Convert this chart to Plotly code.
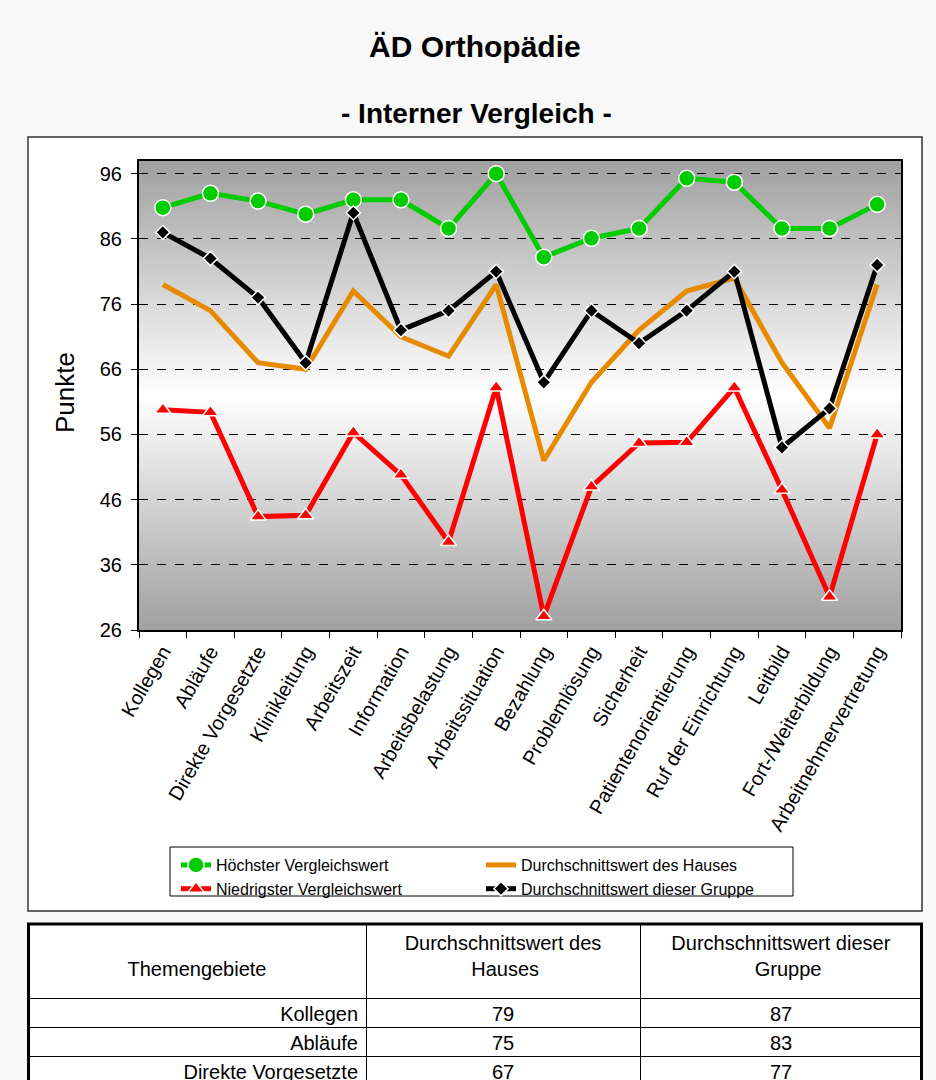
import plotly.graph_objects as go

categories = ["Kollegen", "Abläufe", "Direkte Vorgesetzte", "Klinikleitung", "Arbeitszeit",
              "Information", "Arbeitsbelastung", "Arbeitssituation", "Bezahlung", "Problemlösung",
              "Sicherheit", "Patientenorientierung", "Ruf der Einrichtung", "Leitbild",
              "Fort-/Weiterbildung", "Arbeitnehmervertretung"]

hoechster = [90.8, 93.0, 91.8, 89.8, 92.0, 92.0, 87.6, 96.0, 83.2, 86.1, 87.6, 95.3, 94.7, 87.6, 87.6, 91.3]
haus = [79, 75, 67, 66, 78, 71, 68, 79, 52, 64, 72, 78, 80, 67, 57, 79]
niedrigster = [59.8, 59.4, 43.4, 43.6, 56.3, 49.8, 39.5, 63.2, 28.1, 48.0, 54.7, 54.8, 63.2, 47.5, 31.1, 56.0]
gruppe = [87, 83, 77, 67, 90, 72, 75, 81, 64, 75, 70, 75, 81, 54, 60, 82]

y_ticks = [26, 36, 46, 56, 66, 76, 86, 96]

NB = "\u00a0"
table_header = [NB + "<br>Themengebiete",
                "Durchschnittswert des<br>" + NB * 12 + "Hauses",
                "Durchschnittswert dieser<br>" + NB * 15 + "Gruppe"]

W, H = 936, 1080
FONT = "Arial, 'Liberation Sans', sans-serif"

def px(x):
    return x / W

def py(y):
    return 1 - y / H

fig = go.Figure()

fig.add_trace(go.Scatter(x=categories, y=hoechster, name="Höchster Vergleichswert",
                         mode="lines+markers", line=dict(color="#00cc00", width=5),
                         marker=dict(symbol="circle", size=16, color="#00cc00",
                                     line=dict(color="white", width=1.5)),
                         legend="legend"))
fig.add_trace(go.Scatter(x=categories, y=haus, name="Durchschnittswert des Hauses",
                         mode="lines", line=dict(color="#e68a00", width=5),
                         legend="legend2"))
fig.add_trace(go.Scatter(x=categories, y=niedrigster, name="Niedrigster Vergleichswert",
                         mode="lines+markers", line=dict(color="#ff0000", width=5),
                         marker=dict(symbol="triangle-up", size=14, color="#ff0000",
                                     line=dict(color="white", width=1.5)),
                         legend="legend"))
fig.add_trace(go.Scatter(x=categories, y=gruppe, name="Durchschnittswert dieser Gruppe",
                         mode="lines+markers", line=dict(color="#000000", width=5),
                         marker=dict(symbol="diamond", size=11, color="#000000",
                                     line=dict(color="white", width=1.5)),
                         legend="legend2"))

fig.add_trace(go.Table(
    domain=dict(x=[px(28), px(922)], y=[0, py(924)]),
    columnwidth=[338, 274, 282],
    header=dict(values=table_header, align="center", height=74,
                fill_color="white", line=dict(color="black", width=1),
                font=dict(family=FONT, size=20, color="black")),
    cells=dict(values=[categories, haus, gruppe], align=["right", "center", "center"],
               height=29, fill_color="white", line=dict(color="black", width=1),
               font=dict(family=FONT, size=20, color="black")),
))

shapes = []
# chart box
shapes.append(dict(type="rect", xref="paper", yref="paper", x0=px(28), x1=px(922),
                   y0=py(911), y1=py(137), fillcolor="white",
                   line=dict(color="#333333", width=1.5), layer="below"))
# gradient background of plot area
n = 80
for i in range(n):
    t = (i + 0.5) / n
    d = abs(t - 0.5) * 2
    g = int(round(255 - (255 - 160) * d))
    shapes.append(dict(type="rect", xref="x domain", yref="y domain", x0=0, x1=1,
                       y0=i / n, y1=(i + 1) / n + 0.002,
                       fillcolor=f"rgb({g},{g},{g})", line=dict(width=0), layer="below"))
# legend box
shapes.append(dict(type="rect", xref="paper", yref="paper", x0=px(170), x1=px(793),
                   y0=py(896), y1=py(847), fillcolor="white",
                   line=dict(color="black", width=1), layer="below"))
# table outer border (left, top, right)
tx0, tx1, ty1 = px(28.5), px(921.5), py(924)
shapes.append(dict(type="path", xref="paper", yref="paper",
                   path=f"M {tx0},0 L {tx0},{ty1} L {tx1},{ty1} L {tx1},0",
                   line=dict(color="black", width=3), layer="above"))

legend_common = dict(orientation="v", yanchor="top", xanchor="left",
                     bgcolor="rgba(0,0,0,0)", borderwidth=0, tracegroupgap=0,
                     font=dict(family=FONT, size=16, color="black"))

fig.update_layout(
    width=W, height=H, autosize=False,
    margin=dict(l=0, r=0, t=0, b=0, autoexpand=False),
    paper_bgcolor="#f8f8f8", plot_bgcolor="rgba(0,0,0,0)",
    font=dict(family=FONT, color="black"),
    shapes=shapes,
    showlegend=True,
    legend=dict(x=px(176), y=py(848), **legend_common),
    legend2=dict(x=px(481), y=py(848), **legend_common),
    xaxis=dict(domain=[px(139), px(901)], type="category", range=[-0.5, len(categories) - 0.5],
               showgrid=False, automargin=False,
               showline=True, linecolor="black", linewidth=2, mirror=True,
               ticks="outside", tickson="boundaries", ticklen=6, tickcolor="black",
               tickangle=-60, tickfont=dict(family=FONT, size=20, color="black")),
    yaxis=dict(domain=[py(630), py(160.7)], range=[26, 98], tickvals=y_ticks, automargin=False,
               showgrid=True, gridcolor="black", griddash="dash", gridwidth=1,
               showline=True, linecolor="black", linewidth=2, mirror=True,
               ticks="outside", ticklen=6, tickcolor="black", zeroline=False,
               ticklabelstandoff=5,
               tickfont=dict(family=FONT, size=20, color="black")),
    annotations=[
        dict(text="<b>ÄD Orthopädie</b>", x=px(475), y=py(47), xref="paper", yref="paper",
             xanchor="center", yanchor="middle",
             showarrow=False, font=dict(family=FONT, size=30, color="black")),
        dict(text="<b>- Interner Vergleich -</b>", x=px(476), y=py(113), xref="paper", yref="paper",
             xanchor="center", yanchor="middle",
             showarrow=False, font=dict(family=FONT, size=28, color="black")),
        dict(text="Punkte", x=px(65), y=py(393), xref="paper", yref="paper", textangle=-90,
             xanchor="center", yanchor="middle",
             showarrow=False, font=dict(family=FONT, size=26, color="black")),
    ],
)

post = (
    "document.body.style.margin='0';"
    "document.body.style.background='#f8f8f8';"
    "document.documentElement.style.overflow='hidden';"
    "document.body.style.overflow='hidden';"
)

fig.write_html("out.html", config={"displayModeBar": False}, post_script=post)
